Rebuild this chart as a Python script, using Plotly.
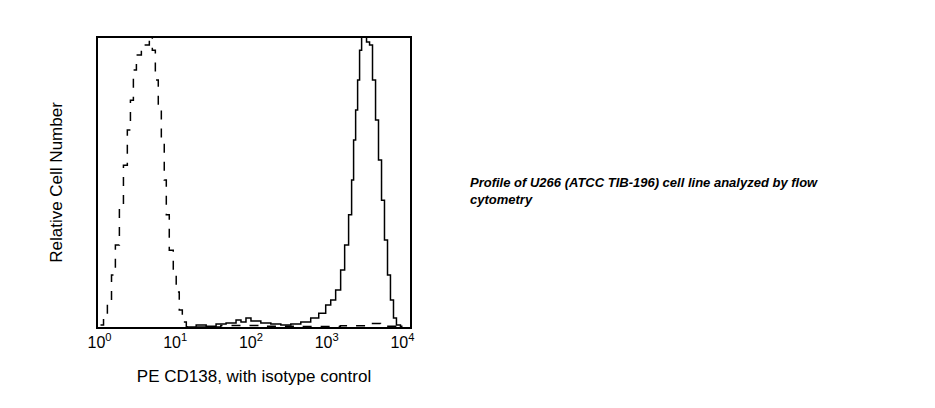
import plotly.graph_objects as go

# Isotype control (dashed)
iso_x = [1.03, 1.13, 1.27, 1.44, 1.62, 1.83, 2.07, 2.33, 2.56, 2.80, 3.07, 3.57, 4.03, 4.55,
         4.98, 5.46, 5.97, 6.55, 7.16, 7.62, 8.34, 9.42, 10.3, 11.3, 12.4, 14.0,
         40, 135, 457, 1514, 3548, 5129, 8128, 9800]
iso_y = [0.7, 3.1, 9.3, 18, 28.4, 42.2, 56, 68.2, 78.5, 88.9, 94.1, 95.8, 97.6, 102,
         95.8, 85.5, 75.1, 64.7, 50.9, 38.8, 26.6, 19.7, 12.1, 5.9, 1.7, 0,
         0.5, 0.3, 0.2, 0.4, 1.2, 0.3, 1.0, 0]

# PE CD138 (solid)
cd_x = [14, 18.9, 25.6, 34.6, 46.9, 63.5, 73.8, 85.9, 100, 135, 183, 248, 336, 455, 615,
        785, 970, 1130, 1313, 1528, 1726, 1946, 2133, 2265, 2410, 2560, 2718, 2891, 3069,
        3357, 3681, 4027, 4416, 4831, 5297, 5794, 6353, 6950, 7621, 8337, 9419]
cd_y = [0, 0.7, 0.3, 1.0, 1.4, 2.4, 1.7, 3.1, 2.1, 1.4, 1.0, 0.7, 1.0, 1.7, 3.1,
        4.8, 7.6, 9.3, 12.8, 19.7, 28.4, 38.8, 50.9, 64.7, 75.1, 85.5, 95.8, 102, 102,
        98.6, 97.6, 85.5, 71.6, 57.8, 43.9, 30.1, 18, 9.3, 3.1, 0.7, 0]

tick_vals = [1, 10, 100, 1000, 10000]
tick_text = ["10<sup>0</sup>", "10<sup>1</sup>", "10<sup>2</sup>", "10<sup>3</sup>", "10<sup>4</sup>"]

fig = go.Figure()
fig.add_trace(go.Scatter(x=iso_x, y=iso_y, mode="lines", line_shape="hv",
                         line=dict(color="black", width=1.5, dash="dash"), showlegend=False))
fig.add_trace(go.Scatter(x=cd_x, y=cd_y, mode="lines", line_shape="hv",
                         line=dict(color="black", width=1.5), showlegend=False))

fig.update_layout(
    width=927, height=400,
    margin=dict(l=90, r=525, t=30, b=81, autoexpand=False),
    paper_bgcolor="white", plot_bgcolor="white",
    font=dict(family="Liberation Sans, Arial", color="black"),
    xaxis=dict(type="log", range=[-0.02, 4.1], tickvals=tick_vals, ticktext=tick_text,
               showgrid=False, zeroline=False, showline=True, mirror=True,
               linecolor="black", linewidth=2, ticks="", tickfont=dict(size=16),
               title=dict(text="PE CD138, with isotype control", font=dict(size=17), standoff=20)),
    yaxis=dict(range=[0, 100], showticklabels=False, showgrid=False, zeroline=False,
               showline=True, mirror=True, linecolor="black", linewidth=2, ticks="",
               title=dict(text="Relative Cell Number", font=dict(size=17), standoff=29)),
    annotations=[dict(xref="paper", yref="paper", x=(460 - 90) / 312, y=(319 - 183) / 289,
                      xanchor="left", yanchor="middle", align="left", showarrow=False,
                      text="<b><i>Profile of U266 (ATCC TIB-196) cell line analyzed by flow<br>cytometry</i></b>",
                      font=dict(size=13, family="Liberation Sans, Arial"))],
)

fig.write_html("out.html")
